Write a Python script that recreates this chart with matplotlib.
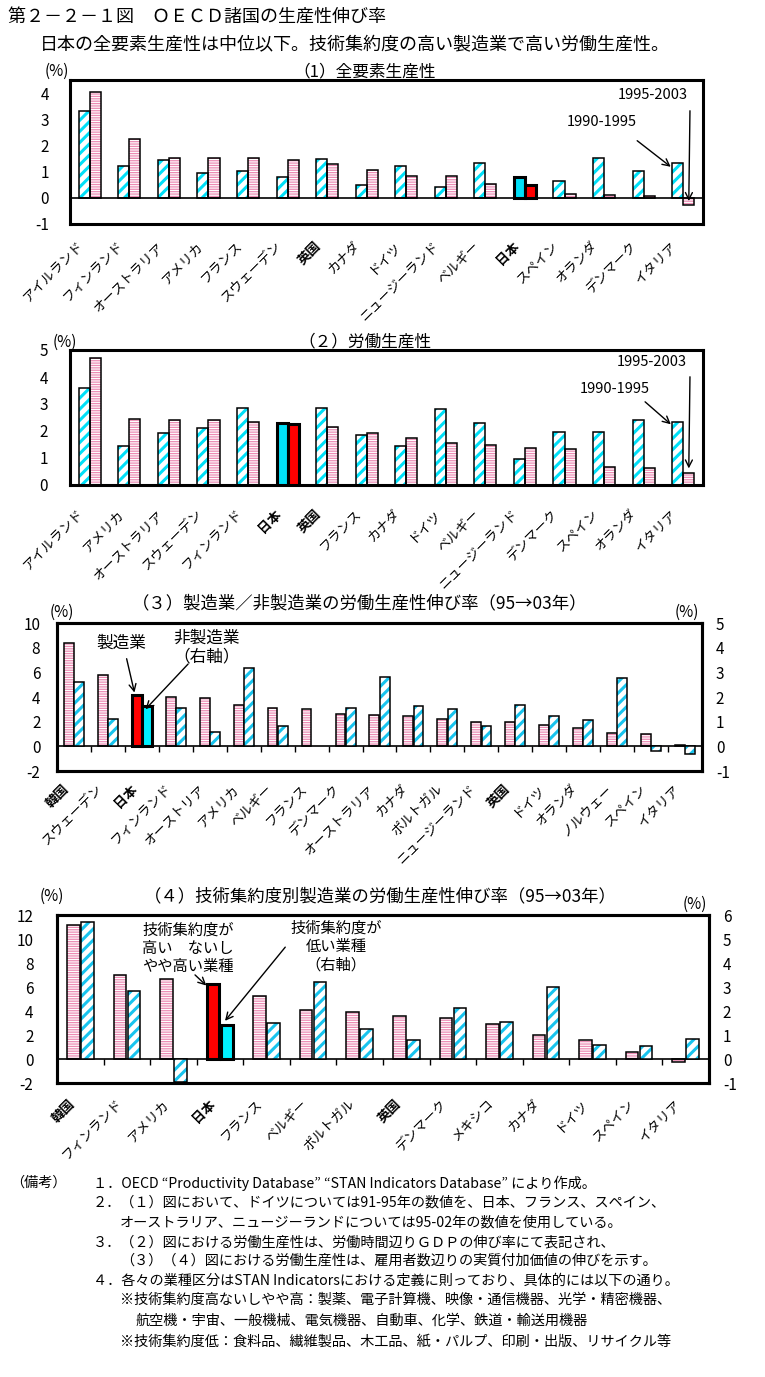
import matplotlib
matplotlib.use("Agg")
import matplotlib.pyplot as plt
import matplotlib.transforms as mtransforms
import numpy as np

plt.rcParams['font.family'] = ['Noto Sans CJK JP', 'DejaVu Sans']
plt.rcParams['axes.unicode_minus'] = False

# (1) 全要素生産性
tfp_countries = ['アイルランド', 'フィンランド', 'オーストラリア', 'アメリカ', 'フランス', 'スウェーデン',
                 '英国', 'カナダ', 'ドイツ', 'ニュージーランド', 'ベルギー', '日本', 'スペイン',
                 'オランダ', 'デンマーク', 'イタリア']
tfp_9095 = [3.3, 1.21, 1.45, 0.94, 1.02, 0.79, 1.47, 0.49, 1.23, 0.42, 1.32, 0.79, 0.64, 1.51, 1.02, 1.32]
tfp_9503 = [4.05, 2.26, 1.51, 1.51, 1.51, 1.43, 1.28, 1.06, 0.83, 0.83, 0.53, 0.48, 0.16, 0.11, 0.08, -0.28]

# (2) 労働生産性
lab_countries = ['アイルランド', 'アメリカ', 'オーストラリア', 'スウェーデン', 'フィンランド', '日本',
                 '英国', 'フランス', 'カナダ', 'ドイツ', 'ベルギー', 'ニュージーランド', 'デンマーク',
                 'スペイン', 'オランダ', 'イタリア']
lab_9095 = [3.6, 1.44, 1.92, 2.11, 2.85, 2.31, 2.85, 1.85, 1.44, 2.82, 2.3, 0.96, 1.96, 1.96, 2.41, 2.33]
lab_9503 = [4.71, 2.44, 2.42, 2.42, 2.33, 2.25, 2.15, 1.92, 1.74, 1.55, 1.48, 1.36, 1.33, 0.67, 0.62, 0.46]

# (3) 製造業／非製造業 (95→03年)
mfg_countries = ['韓国', 'スウェーデン', '日本', 'フィンランド', 'オーストリア', 'アメリカ', 'ベルギー',
                 'フランス', 'デンマーク', 'オーストラリア', 'カナダ', 'ポルトガル', 'ニュージーランド',
                 '英国', 'ドイツ', 'オランダ', 'ノルウェー', 'スペイン', 'イタリア']
mfg = [8.36, 5.81, 4.14, 4.0, 3.92, 3.37, 3.1, 3.01, 2.63, 2.52, 2.44, 2.19, 1.95, 1.95, 1.7, 1.45, 1.12, 0.96, 0.14]
nonmfg = [2.62, 1.10, 1.62, 1.55, 0.58, 3.19, 0.81, np.nan, 1.55, 2.82, 1.64, 1.51, 0.81, 1.67, 1.22, 1.05,
          2.78, -0.18, -0.32]

# (4) 技術集約度別 (95→03年)
tech_countries = ['韓国', 'フィンランド', 'アメリカ', '日本', 'フランス', 'ベルギー', 'ポルトガル', '英国',
                  'デンマーク', 'メキシコ', 'カナダ', 'ドイツ', 'スペイン', 'イタリア']
tech_high = [11.2, 7.0, 6.63, 6.26, 5.28, 4.1, 3.93, 3.6, 3.43, 2.92, 1.99, 1.57, 0.56, -0.28]
tech_low = [5.72, 2.85, -0.95, 1.40, 1.50, 3.19, 1.25, 0.79, 2.13, 1.54, 3.02, 0.58, 0.53, 0.83]

CYAN = '#00e0f8'
CYAN2 = '#18c4ee'
PINK = '#ec8cb4'
RED = '#ff0000'
BOLD_NAMES = ('日本', '英国', '韓国')

W, H = 765, 1377
fig = plt.figure(figsize=(W / 100, H / 100), dpi=100)


def px_axes(l, t, r, b):
    return fig.add_axes([l / W, 1 - b / H, (r - l) / W, (b - t) / H])


def ftext(x, y, s, **kw):
    kw.setdefault('va', 'center')
    fig.text(x / W, 1 - y / H, s, **kw)


def hatched(ax, x, vals, w, color, hatch, hlw):
    bars = ax.bar(x, vals, w, color='white', edgecolor=color, hatch=hatch, linewidth=0, zorder=2)
    for b in bars:
        if hasattr(b, 'set_hatch_linewidth'):
            b.set_hatch_linewidth(hlw)
    ax.bar(x, vals, w, fill=False, edgecolor='black', linewidth=1.1, zorder=3)


def solid(ax, xi, v, w, color):
    ax.bar([xi], [v], w, color=color, edgecolor='black', linewidth=2.2, zorder=4)


def frame(ax):
    for sp in ax.spines.values():
        sp.set_linewidth(2.2)
    ax.set_xticks([])


def cat_labels(ax, labels, dx, dy, size=9.5):
    trans = mtransforms.offset_copy(ax.get_xaxis_transform(), fig=fig, x=dx, y=dy, units='dots')
    for i, name in enumerate(labels):
        ax.text(i, 0, name, transform=trans, rotation=45, rotation_mode='anchor',
                ha='right', va='center', fontsize=size,
                fontweight='bold' if name in BOLD_NAMES else 'normal')


def arrow(ax, xy, tail, coords='data'):
    ax.annotate('', xy=xy, xycoords=coords, xytext=(tail[0], H - tail[1]), textcoords='figure pixels',
                arrowprops=dict(arrowstyle='->,head_length=0.5,head_width=0.25', color='black', lw=1.0),
                zorder=6)


# 見出し
ftext(8, 18, '第２－２－１図　ＯＥＣＤ諸国の生産性伸び率', fontsize=13)
ftext(40, 45, '日本の全要素生産性は中位以下。技術集約度の高い製造業で高い労働生産性。', fontsize=13)

bw = 0.28
off = 0.14

# ---- (1) ----
ax1 = px_axes(70, 80, 703, 224)
x = np.arange(len(tfp_countries))
jp = tfp_countries.index('日本')
hatched(ax1, x - off, tfp_9095, bw, CYAN, '///', 2.2)
hatched(ax1, x + off, tfp_9503, bw, PINK, '-------', 0.9)
solid(ax1, jp - off, tfp_9095[jp], bw, CYAN)
solid(ax1, jp + off, tfp_9503[jp], bw, RED)
ax1.axhline(0, color='black', lw=1.2, zorder=5)
ax1.set_xlim(-0.5, len(x) - 0.5)
ax1.set_ylim(-1, 4.5)
ax1.set_yticks(range(-1, 5))
ax1.tick_params(axis='y', length=0, pad=15, labelsize=11)
frame(ax1)
cat_labels(ax1, tfp_countries, -8, -20)
ftext(45, 71, '(%)', fontsize=11)
ftext(365, 72, '（1）全要素生産性', fontsize=12, ha='center')
ftext(618, 95, '1995-2003', fontsize=10.5)
ftext(567, 122, '1990-1995', fontsize=10.5)
it = len(x) - 1
arrow(ax1, (it - off - 0.12, tfp_9095[it] - 0.2), (635, 139))
arrow(ax1, (it + off, tfp_9503[it] + 0.05), (690, 108))

# ---- (2) ----
ax2 = px_axes(70, 350, 703, 485)
x = np.arange(len(lab_countries))
jp = lab_countries.index('日本')
hatched(ax2, x - off, lab_9095, bw, CYAN, '///', 2.2)
hatched(ax2, x + off, lab_9503, bw, PINK, '-------', 0.9)
solid(ax2, jp - off, lab_9095[jp], bw, CYAN)
solid(ax2, jp + off, lab_9503[jp], bw, RED)
ax2.set_xlim(-0.5, len(x) - 0.5)
ax2.set_ylim(0, 5)
ax2.set_yticks(range(0, 6))
ax2.tick_params(axis='y', length=0, pad=16, labelsize=11)
frame(ax2)
cat_labels(ax2, lab_countries, -8, -27)
ftext(53, 342, '(%)', fontsize=11)
ftext(365, 342, '（２）労働生産性', fontsize=12, ha='center')
ftext(617, 362, '1995-2003', fontsize=10.5)
ftext(580, 389, '1990-1995', fontsize=10.5)
it = len(x) - 1
arrow(ax2, (it - off - 0.12, lab_9095[it] - 0.15), (643, 400))
arrow(ax2, (it + off, lab_9503[it] + 0.05), (690, 374))

# ---- (3) ----
ax3 = px_axes(57, 623, 702, 771)
ax3r = ax3.twinx()
x = np.arange(len(mfg_countries))
jp = mfg_countries.index('日本')
bw3 = 0.29
off3 = 0.15
hatched(ax3, x - off3, mfg, bw3, PINK, '-------', 0.9)
hatched(ax3r, x + off3, nonmfg, bw3, CYAN2, '///', 2.2)
solid(ax3, jp - off3, mfg[jp], bw3, RED)
solid(ax3r, jp + off3, nonmfg[jp], bw3, '#00f0ff')
ax3.axhline(0, color='black', lw=1.2, zorder=5)
ax3.plot(np.arange(len(x) + 1) - 0.5, np.zeros(len(x) + 1), ls='none', marker=3, ms=4,
         color='black', mew=1)
ax3.set_xlim(-0.5, len(x) - 0.5)
ax3.set_ylim(-2, 10)
ax3.set_yticks(range(-2, 11, 2))
ax3r.set_ylim(-1, 5)
ax3r.set_yticks(range(-1, 6))
ax3.tick_params(axis='y', length=0, pad=12, labelsize=11)
ax3r.tick_params(axis='y', length=0, pad=10, labelsize=11)
frame(ax3)
frame(ax3r)
cat_labels(ax3, mfg_countries, -7, -16)
ftext(50, 612, '(%)', fontsize=11)
ftext(675, 612, '(%)', fontsize=11)
ftext(360, 603, '（３）製造業／非製造業の労働生産性伸び率（95→03年）', fontsize=12.5, ha='center')
ftext(121, 643, '製造業', fontsize=12, ha='center')
ftext(207, 638, '非製造業', fontsize=12, ha='center')
ftext(207, 657, '（右軸）', fontsize=12, ha='center')
arrow(ax3, (jp - off3 - 0.05, mfg[jp]), (126, 656))
arrow(ax3r, (jp + off3 - 0.1, nonmfg[jp] - 0.2), (190, 662))

# ---- (4) ----
ax4 = px_axes(57, 915, 709, 1083)
ax4r = ax4.twinx()
x = np.arange(len(tech_countries))
jp = tech_countries.index('日本')
bw4 = 0.27
off4 = 0.15
hatched(ax4, x - off4, tech_high, bw4, PINK, '-------', 0.9)
hatched(ax4r, x + off4, tech_low, bw4, CYAN2, '///', 2.2)
solid(ax4, jp - off4, tech_high[jp], bw4, RED)
solid(ax4r, jp + off4, tech_low[jp], bw4, '#00f0ff')
ax4.axhline(0, color='black', lw=1.2, zorder=5)
ax4.plot(np.arange(len(x) + 1) - 0.5, np.zeros(len(x) + 1), ls='none', marker=3, ms=4,
         color='black', mew=1)
ax4.set_xlim(-0.5, len(x) - 0.5)
ax4.set_ylim(-2, 12)
ax4.set_yticks(range(-2, 13, 2))
ax4r.set_ylim(-1, 6)
ax4r.set_yticks(range(-1, 7))
ax4.tick_params(axis='y', length=0, pad=17, labelsize=11)
ax4r.tick_params(axis='y', length=0, pad=10, labelsize=11)
frame(ax4)
frame(ax4r)
cat_labels(ax4, tech_countries, -7, -19)
ftext(40, 896, '(%)', fontsize=11)
ftext(683, 904, '(%)', fontsize=11)
ftext(380, 896, '（４）技術集約度別製造業の労働生産性伸び率（95→03年）', fontsize=12.5, ha='center')
ftext(188, 930, '技術集約度が', fontsize=11, ha='center')
ftext(188, 948, '高い　ないし', fontsize=11, ha='center')
ftext(188, 967, 'やや高い業種', fontsize=11, ha='center')
ftext(336, 928, '技術集約度が', fontsize=11, ha='center')
ftext(336, 946, '低い業種', fontsize=11, ha='center')
ftext(336, 965, '（右軸）', fontsize=11, ha='center')
arrow(ax4, (jp - off4 - 0.1, tech_high[jp] - 0.3), (193, 973))
arrow(ax4r, (jp + off4 - 0.08, tech_low[jp] + 0.1), (287, 945))

# 備考
notes = [
    (10, 1183, '（備考）'),
    (93, 1183, '１．OECD “Productivity Database” “STAN Indicators Database” により作成。'),
    (93, 1203, '２．（１）図において、ドイツについては91-95年の数値を、日本、フランス、スペイン、'),
    (120, 1222, 'オーストラリア、ニュージーランドについては95-02年の数値を使用している。'),
    (93, 1242, '３．（２）図における労働生産性は、労働時間辺りＧＤＰの伸び率にて表記され、'),
    (120, 1261, '（３）（４）図における労働生産性は、雇用者数辺りの実質付加価値の伸びを示す。'),
    (93, 1281, '４．各々の業種区分はSTAN Indicatorsにおける定義に則っており、具体的には以下の通り。'),
    (120, 1300, '※技術集約度高ないしやや高：製薬、電子計算機、映像・通信機器、光学・精密機器、'),
    (135, 1321, '航空機・宇宙、一般機械、電気機器、自動車、化学、鉄道・輸送用機器'),
    (120, 1342, '※技術集約度低：食料品、繊維製品、木工品、紙・パルプ、印刷・出版、リサイクル等'),
]
for nx, ny, s in notes:
    ftext(nx, ny, s, fontsize=10.2)

fig.savefig('out.png', dpi=100, facecolor='white')
